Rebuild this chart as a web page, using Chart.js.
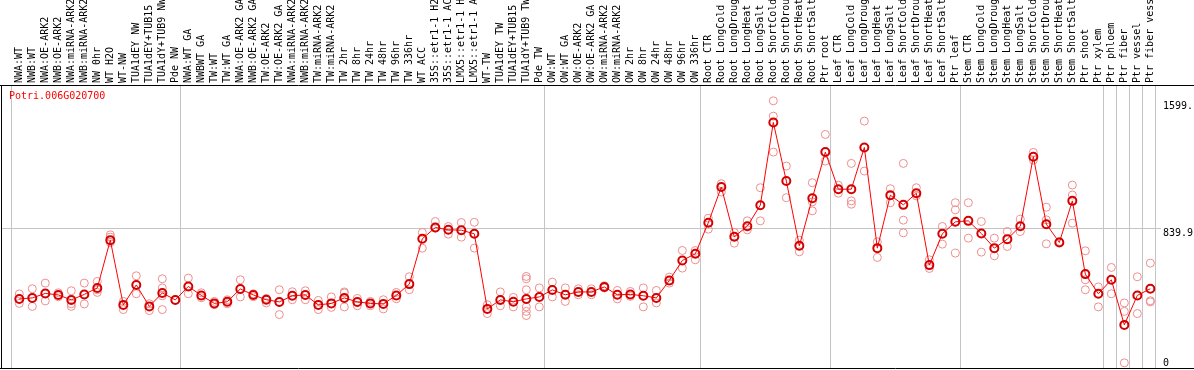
<!DOCTYPE html>
<html>
<head>
<meta charset="utf-8">
<script src="https://cdn.jsdelivr.net/npm/chart.js@4/dist/chart.umd.min.js"></script>
<style>
  html, body { margin: 0; padding: 0; background: #fff; }
  #wrap { width: 1194px; height: 370px; position: relative; }
  canvas { display: block; }
</style>
</head>
<body>
<div id="wrap"><canvas id="c" width="1194" height="370"></canvas></div>
<script>
const geneId = "Potri.006G020700";

const categories = [
  "NWA:WT","NWB:WT","NWA:OE-ARK2","NWB:OE-ARK2","NWA:miRNA-ARK2","NWB:miRNA-ARK2","NW 0hr","WT H2O","WT-NW","TUA1dEY NW","TUA1dEY+TUB15 NW","TUA1dY+TUB9 NW","Pde NW",
  "NWA:WT GA","NWBWT GA","TW:WT","TW:WT GA","NWA:OE-ARK2 GA","NWB:OE-ARK2 GA","TW:OE-ARK2","TW:OE-ARK2 GA","NWA:miRNA-ARK2","NWB:miRNA-ARK2","TW:miRNA-ARK2","TW:miRNA-ARK2","TW 2hr","TW 8hr","TW 24hr","TW 48hr","TW 96hr","TW 336hr","WT ACC","35S::etr1-1 H2O","35S::etr1-1 ACC","LMX5::etr1-1 H2O","LMX5::etr1-1 ACC","WT-TW","TUA1dEY TW","TUA1dEY+TUB15 TW","TUA1dY+TUB9 TW","Pde TW",
  "OW:WT","OW:WT GA","OW:OE-ARK2","OW:OE-ARK2 GA","OW:miRNA-ARK2","OW:miRNA-ARK2","OW 2hr","OW 8hr","OW 24hr","OW 48hr","OW 96hr","OW 336hr",
  "Root CTR","Root LongCold","Root LongDrought","Root LongHeat","Root LongSalt","Root ShortCold","Root ShortDrought","Root ShortHeat","Root ShortSalt","Ptr root",
  "Leaf CTR","Leaf LongCold","Leaf LongDrought","Leaf LongHeat","Leaf LongSalt","Leaf ShortCold","Leaf ShortDrought","Leaf ShortHeat","Leaf ShortSalt","Ptr leaf",
  "Stem CTR","Stem LongCold","Stem LongDrought","Stem LongHeat","Stem LongSalt","Stem ShortCold","Stem ShortDrought","Stem ShortHeat","Stem ShortSalt","Ptr shoot","Ptr xylem",
  "Ptr phloem","Ptr fiber","Ptr vessel","Ptr fiber vessel"
];

const meanValues = [
  415,421,448,439,409,442,481,768,379,499,370,451,409,
  490,436,388,398,475,439,410,397,434,439,379,388,421,397,388,385,436,504,776,844,830,828,806,355,409,398,415,427,
  469,440,457,457,487,440,442,434,421,526,646,686,
  873,1087,788,852,978,1475,1123,734,1020,1297,
  1074,1074,1325,720,1038,980,1050,618,806,878,
  884,808,720,774,852,1269,864,754,1004,564,446,
  530,259,436,476
];

const replicateValues = [
  [445,388],[476,370],[510,403],[452,428],[464,386,370],[510,385],[520,470,454],[800,786,754],[400,351],[554,446],[386,345],[536,481,434,351],[410],
  [540,446],[452,422],[400,380],[410,386],[530,427],[446,428],[418,391],[470,321],[458,410],[464,410],[406,351],[427,364],[457,451,367],[418,374],[400,374],[410,355],[454,416],[548,470],[814,720],[880,840],[850,804],[874,786],[875,720],[380,327],[457,374],[424,367],[550,536,470,367,340,315],[481,367],
  [516,427],[481,400],[476,440],[476,440],[494,481],[466,415],[460,430],[481,367],[466,391],[546,510],[706,600],[706,650],
  [900,834],[1107,1057],[814,750],[884,830],[1083,884],[1605,1513,1297],[1213,1023],[768,698],[1113,998,944],[1403,1243],
  [1098,1050],[1229,1004,984],[1483,1183],[758,664],[1077,993],[1229,888,812],[1083,1034],[650,598],[850,744],[993,950,690],
  [993,780],[880,696],[780,674],[820,730],[894,820],[1295,1249],[966,890,746],[760],[1099,1039,870],[704,530,470],[487,367],
  [604,446],[391,340,31],[548,327],[630,404,397]
];

// index of the last category of each group (group separators)
const groupEnds = [-1, 12, 40, 52, 62, 72, 83, 84, 85, 86, 87];

const yTickValues = [0, 839.9, 1599.5];

const FONT = "'DejaVu Sans Mono', 'Liberation Mono', monospace";
const GRID = '#c4c4c4';

const meanData = meanValues.map((v, i) => ({ x: i, y: v }));
const repData = replicateValues.flatMap((arr, i) => arr.map(v => ({ x: i, y: v })));
const sepValues = groupEnds.map(e => e + 0.4);

const framePlugin = {
  id: 'frame',
  afterDraw(chart) {
    const { ctx, chartArea, width } = chart;
    const yScale = chart.scales.y;
    ctx.save();
    ctx.font = "10px " + FONT;
    ctx.fillStyle = '#000';
    ctx.textAlign = 'left';
    ctx.textBaseline = 'top';
    yTickValues.forEach(v => {
      let py = yScale.getPixelForValue(v);
      py = Math.min(py, chartArea.bottom - 10);
      ctx.fillText(String(v).slice(0, 5), chartArea.right + 2, py);
    });
    ctx.fillStyle = '#ff0000';
    ctx.fillText(geneId, chartArea.left + 8, chartArea.top + 6);
    ctx.strokeStyle = '#000';
    ctx.lineWidth = 1;
    ctx.beginPath();
    ctx.moveTo(0, chartArea.top + 0.5); ctx.lineTo(width, chartArea.top + 0.5);
    ctx.moveTo(0, chartArea.bottom + 0.5); ctx.lineTo(width, chartArea.bottom + 0.5);
    ctx.moveTo(chartArea.left + 0.5, chartArea.top); ctx.lineTo(chartArea.left + 0.5, chartArea.bottom + 1);
    ctx.stroke();
    ctx.restore();
  }
};

new Chart(document.getElementById('c'), {
  data: {
    datasets: [
      {
        type: 'line',
        data: meanData,
        borderColor: '#ff0000',
        borderWidth: 1,
        pointRadius: 4,
        pointBorderWidth: 2,
        pointBorderColor: '#d40000',
        pointBackgroundColor: 'rgba(0,0,0,0)',
        tension: 0,
        order: 1
      },
      {
        type: 'scatter',
        data: repData,
        pointRadius: 4,
        pointBorderWidth: 1,
        pointBorderColor: '#ee8e8e',
        pointBackgroundColor: 'rgba(0,0,0,0)',
        showLine: false,
        order: 2
      }
    ]
  },
  options: {
    responsive: false,
    devicePixelRatio: 1,
    animation: false,
    layout: { autoPadding: false, padding: { left: 1, top: 0, right: 0, bottom: 2 } },
    plugins: { legend: { display: false }, tooltip: { enabled: false } },
    scales: {
      x: {
        type: 'linear',
        position: 'top',
        min: -1.408,
        max: 87.82,
        afterBuildTicks(scale) {
          scale.ticks = categories.map((_, i) => ({ value: i }))
            .concat(sepValues.map(v => ({ value: v })));
        },
        afterFit(scale) {
          scale.height = 85;
          scale.paddingLeft = 0;
          scale.paddingRight = 0;
        },
        border: { display: false },
        grid: {
          drawTicks: false,
          lineWidth: 1,
          color: ctx => (ctx.tick && !Number.isInteger(ctx.tick.value)) ? GRID : 'rgba(0,0,0,0)'
        },
        ticks: {
          autoSkip: false,
          minRotation: 90,
          maxRotation: 90,
          padding: 2,
          labelOffset: 12,
          color: '#000',
          font: { family: FONT, size: 10 },
          callback: v => Number.isInteger(v) ? categories[v] : ''
        }
      },
      y: {
        type: 'linear',
        position: 'right',
        min: 0,
        max: 1700,
        afterBuildTicks(scale) {
          scale.ticks = yTickValues.map(v => ({ value: v }));
        },
        afterFit(scale) { scale.width = 33; },
        border: { display: false },
        grid: {
          drawTicks: false,
          color: ctx => (ctx.tick && ctx.tick.value === 839.9) ? GRID : 'rgba(0,0,0,0)'
        },
        ticks: { display: false }
      }
    }
  },
  plugins: [framePlugin]
});
</script>
</body>
</html>
